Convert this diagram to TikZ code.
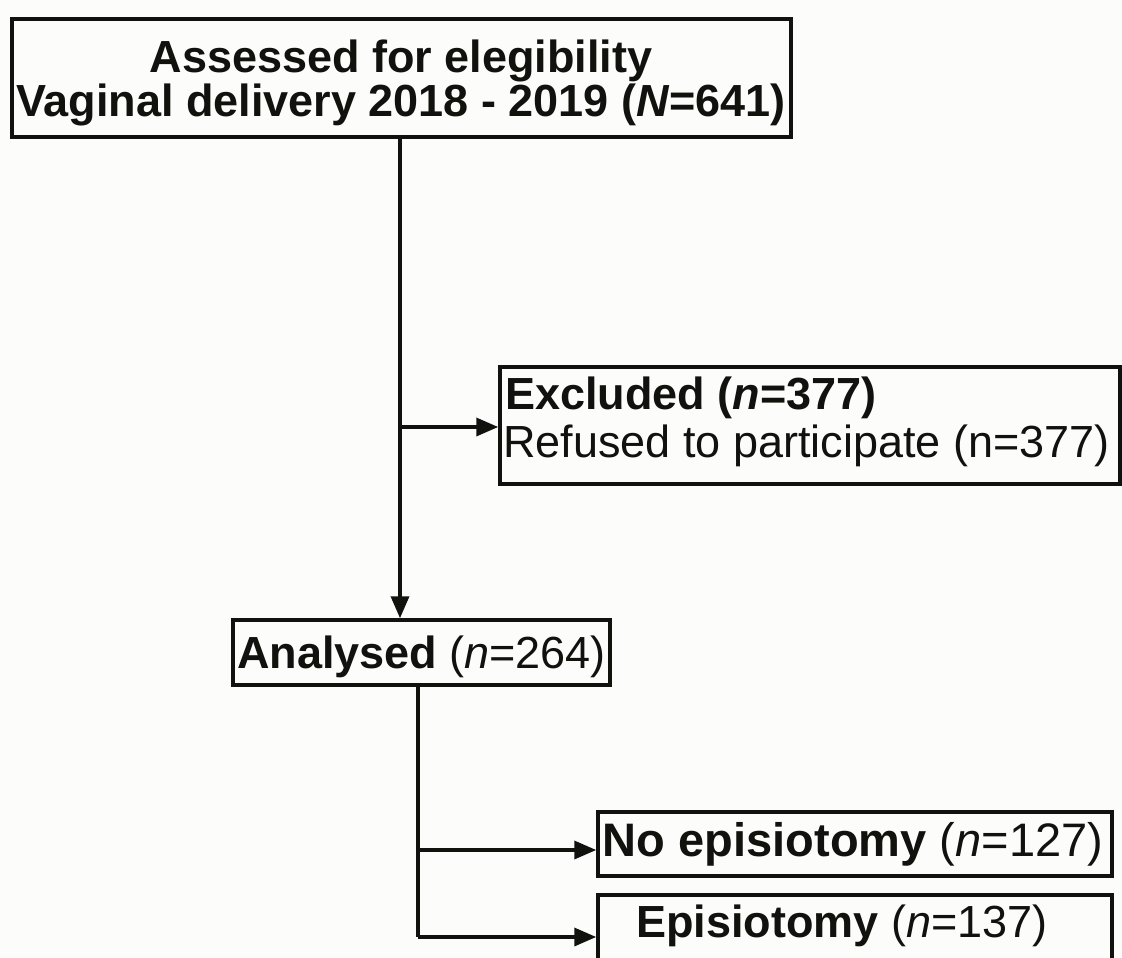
\documentclass[tikz,border=0pt]{standalone}
\usepackage{fontspec}
\setmainfont{Liberation Sans}
\usetikzlibrary{arrows.meta}
\definecolor{ink}{RGB}{17,17,14}
\definecolor{paper}{RGB}{252,252,250}
\tikzset{
  box/.style={draw=ink, line width=3.5pt, rectangle, inner sep=0pt, fill=none},
  txt/.style={inner sep=0pt, text=ink, font=\fontsize{45}{42}\selectfont},
  bigtxt/.style={inner sep=0pt, text=ink, font=\fontsize{47}{42}\selectfont},
  conn/.style={draw=ink, line width=3.5pt},
  arr/.style={conn, -{Triangle[length=22pt,width=18pt]}},
}
\begin{document}
\begin{tikzpicture}[x=1pt,y=-1pt]
\fill[paper] (0,0) rectangle (1122,958);
\useasboundingbox (0,0) rectangle (1122,958);
% boxes
\node[box, minimum width=779pt, minimum height=118pt] (top) at (401.5,78) {};
\node[box, minimum width=620pt, minimum height=117pt] (excl) at (810,425.5) {};
\node[box, minimum width=377pt, minimum height=65pt] (anal) at (421.5,652.5) {};
\node[box, minimum width=514pt, minimum height=64pt] (noep) at (855,844) {};
\node[box, minimum width=514pt, minimum height=67pt] (ep) at (855,928.5) {};
% texts
\node[txt, anchor=base] (t1) at (401,73) {\bfseries Assessed for elegibility};
\node[txt, anchor=base] (t2) at (401,117) {\bfseries Vaginal delivery 2018 - 2019 (\textit{N}=641)};
\node[txt, anchor=base west] (e1) at (505,409) {\bfseries Excluded (\textit{n}=377)};
\node[txt, anchor=base west] (e2) at (503,457) {Refused to participate (n=377)};
\node[txt, anchor=base] (a1) at (421.5,668) {\textbf{Analysed} (\textit{n}=264)};
\node[bigtxt, anchor=base] (n1) at (853,856) {\textbf{No episiotomy} (\textit{n}=127)};
\node[txt, anchor=base] (p1) at (842,937) {\textbf{Episiotomy} (\textit{n}=137)};
% connectors
\coordinate (x1) at (400,0);
\coordinate (b1) at (400,427);
\coordinate (x2) at (418,0);
\coordinate (b2) at (418,850);
\coordinate (b3) at (418,937);
\draw[arr] (top.south -| x1) -- (anal.north -| x1);
\draw[arr] (b1) -- (excl.west |- b1);
\draw[conn] (anal.south -| x2) -- (b3);
\draw[arr] (b3) -- (ep.west |- b3);
\draw[arr] (b2) -- (noep.west |- b2);
\end{tikzpicture}
\end{document}
